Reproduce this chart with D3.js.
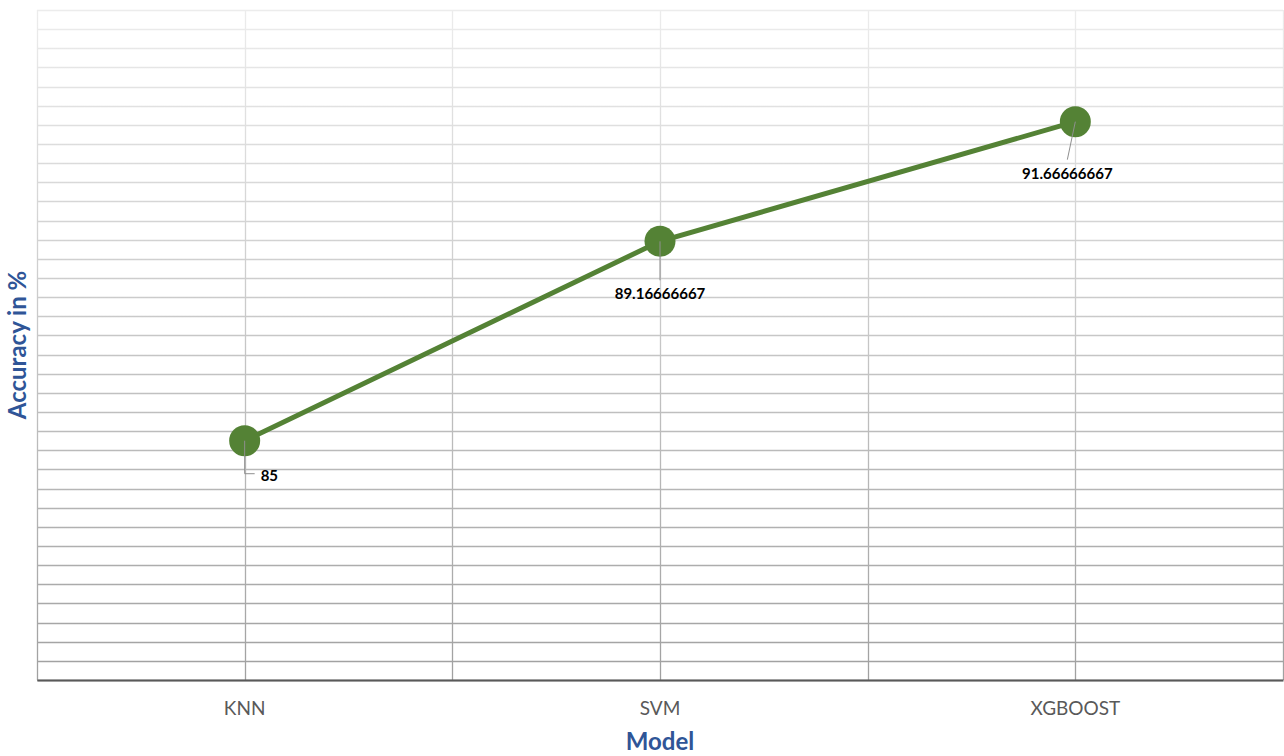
<!DOCTYPE html>
<html>
<head>
<meta charset="utf-8">
<script src="https://cdn.jsdelivr.net/npm/d3@7"></script>
<style>
  html, body { margin: 0; padding: 0; background: #fff; }
  svg { display: block; }
</style>
</head>
<body>
<svg id="chart" width="1284" height="756"></svg>
<script>
const categories = ["KNN", "SVM", "XGBOOST"];
const accuracy = [85, 89.16666667, 91.66666667];
const valueLabels = ["85", "89.16666667", "91.66666667"];
const yDomain = [80, 94];
const gridStep = 0.4;

(function () {
const svg = d3.select("#chart");
const pL = 37, pR = 1283, pT = 10, pB = 680;
const font = "Lato, 'Open Sans', sans-serif";

const x = d3.scaleBand().domain(categories).range([pL, pR]).padding(0);
const y = d3.scaleLinear().domain(yDomain).range([pB, pT]);
const cx = c => x(c) + x.bandwidth() / 2;

const defs = svg.append("defs");
const grad = defs.append("linearGradient")
  .attr("id", "gridGrad").attr("gradientUnits", "userSpaceOnUse")
  .attr("x1", 0).attr("y1", pT).attr("x2", 0).attr("y2", pB);
grad.append("stop").attr("offset", "0%").attr("stop-color", "#ececec");
grad.append("stop").attr("offset", "100%").attr("stop-color", "#a0a0a0");

const grid = svg.append("g");
const gridVals = d3.range(yDomain[0], yDomain[1] + 1e-6, gridStep);
grid.selectAll("line.h").data(gridVals).join("line")
  .attr("class", "h")
  .attr("x1", pL).attr("x2", pR)
  .attr("y1", d => Math.round(y(d)) + 0.5).attr("y2", d => Math.round(y(d)) + 0.5)
  .attr("stroke", "url(#gridGrad)").attr("stroke-width", 1.3);

const vVals = [];
categories.forEach(c => { vVals.push(x(c)); vVals.push(cx(c)); });
vVals.push(pR);
grid.selectAll("line.v").data(vVals).join("line")
  .attr("class", "v")
  .attr("x1", d => Math.round(d) + 0.5).attr("x2", d => Math.round(d) + 0.5)
  .attr("y1", pT).attr("y2", pB)
  .attr("stroke", "url(#gridGrad)").attr("stroke-width", 1.3);

// x axis
const xAxis = svg.append("g").attr("transform", `translate(0,${pB})`)
  .call(d3.axisBottom(x).tickSize(0).tickPadding(22));
xAxis.select(".domain").attr("stroke", "#595959").attr("stroke-width", 2.2);
xAxis.selectAll("text").attr("font-family", font).attr("font-size", 19).attr("fill", "#595959");

// line
const pts = categories.map((c, i) => ({ c, v: accuracy[i], label: valueLabels[i] }));
svg.append("path").datum(pts)
  .attr("d", d3.line().x(d => cx(d.c)).y(d => y(d.v)))
  .attr("fill", "none").attr("stroke", "#548235").attr("stroke-width", 5);

const leaders = [
  p => `M${cx(p.c)},${y(p.v)} V${y(p.v) + 33} H${cx(p.c) + 10}`,
  p => `M${cx(p.c)},${y(p.v)} V${y(p.v) + 39}`,
  p => `M${cx(p.c)},${y(p.v)} L${cx(p.c) - 8},${y(p.v) + 38}`
];

svg.selectAll("circle.pt").data(pts).join("circle")
  .attr("class", "pt")
  .attr("cx", d => cx(d.c)).attr("cy", d => y(d.v)).attr("r", 15.5)
  .attr("fill", "#548235");

svg.selectAll("path.leader").data(pts).join("path")
  .attr("class", "leader")
  .attr("d", (d, i) => leaders[i](d))
  .attr("fill", "none").attr("stroke", "#8f8f8f").attr("stroke-width", 1);

const labelPos = [
  p => ({ x: cx(p.c) + 16, y: y(p.v) + 40, a: "start" }),
  p => ({ x: cx(p.c), y: y(p.v) + 58, a: "middle" }),
  p => ({ x: cx(p.c) - 8, y: y(p.v) + 57, a: "middle" })
];
svg.selectAll("text.val").data(pts).join("text")
  .attr("class", "val")
  .each(function(d, i) {
    const p = labelPos[i](d);
    d3.select(this).attr("x", p.x).attr("y", p.y).attr("text-anchor", p.a);
  })
  .attr("font-family", font).attr("font-size", 15).attr("font-weight", "bold")
  .attr("fill", "#000").text(d => d.label);

svg.append("text").attr("x", (pL + pR) / 2).attr("y", 750)
  .attr("text-anchor", "middle").attr("font-family", font)
  .attr("font-size", 24).attr("font-weight", "bold").attr("fill", "#2f5597")
  .text("Model");
svg.append("text")
  .attr("transform", `translate(26,${(pT + pB) / 2}) rotate(-90)`)
  .attr("text-anchor", "middle").attr("font-family", font)
  .attr("font-size", 24).attr("font-weight", "bold").attr("fill", "#2f5597")
  .text("Accuracy in %");
})();
</script>
</body>
</html>
